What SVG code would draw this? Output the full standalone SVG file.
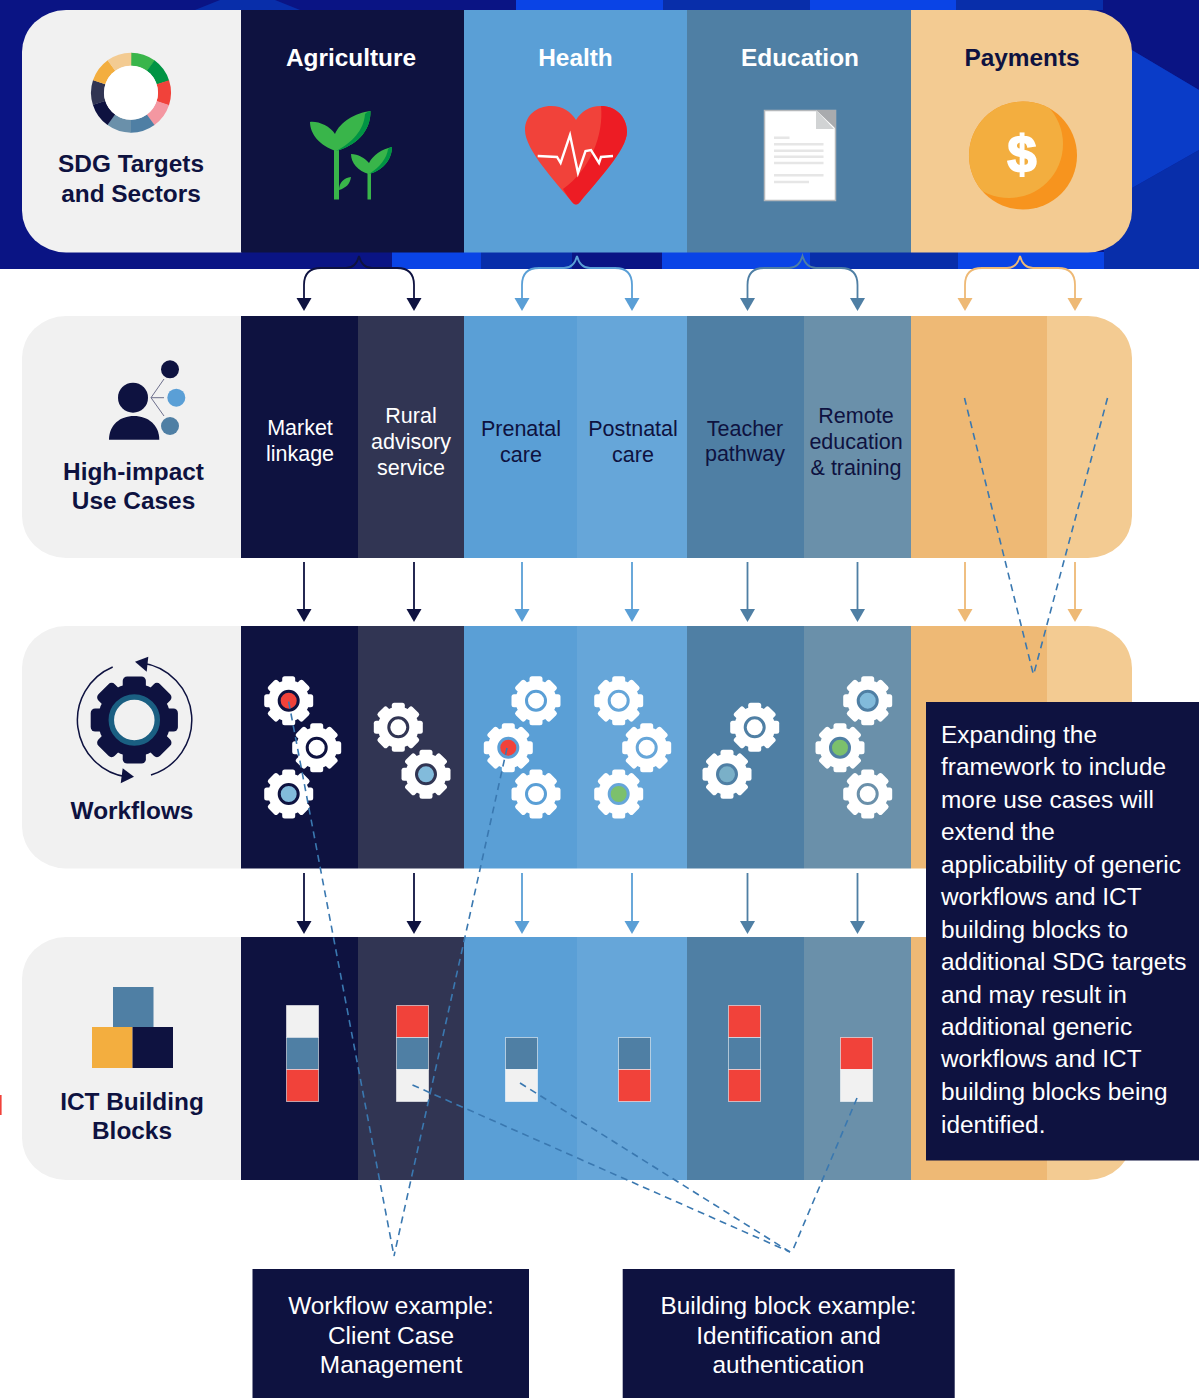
<svg xmlns="http://www.w3.org/2000/svg" width="1199" height="1398" viewBox="0 0 1199 1398">
<style>
text{font-family:"Liberation Sans",Arial,sans-serif}
.t{font-weight:700;font-size:24.4px;text-anchor:middle}
.u{font-size:21.5px;text-anchor:middle}
.c{font-size:24.4px;fill:#fff}
.b{font-size:24.4px;fill:#fff;text-anchor:middle}
.w{fill:#fff}.n{fill:#0e1240}
.navy{fill:#0e1240}.slate{fill:#313553}.sky{fill:#5a9fd6}.sky2{fill:#66a6d9}.steel{fill:#4f7fa4}.steel2{fill:#6a90aa}.ora{fill:#eeb975}.peach{fill:#f3cb92}.lab{fill:#f1f1f1}.red{fill:#f1423a}
.bk{stroke:#ffffff;stroke-opacity:.55;stroke-width:1}
.seg{fill:none;stroke-width:13;stroke-dasharray:36.5 323.5}
.con{fill:none;stroke-width:1.8}
.dash{fill:none;stroke:#3a78b0;stroke-width:1.6;stroke-dasharray:7 5}
.leaf{fill:#39b54a}.leaf2{fill:#009444}
.ln{stroke:#e6e6e6;stroke-width:2.4}
</style>
<defs>
<clipPath id="r1"><rect x="22" y="10" width="1110" height="242.500" rx="44" ry="42"/></clipPath>
<clipPath id="r2"><rect x="22" y="316" width="1110" height="242" rx="44" ry="42"/></clipPath>
<clipPath id="r3"><rect x="22" y="626" width="1110" height="242.500" rx="44" ry="42"/></clipPath>
<clipPath id="r4"><rect x="22" y="937" width="1110" height="243" rx="44" ry="42"/></clipPath>
<clipPath id="coin"><circle cx="1023" cy="155.500" r="54"/></clipPath>
<g id="gear">
<circle r="20.500"/>
<rect x="-6.500" y="-24.500" width="13" height="49" rx="2.500"/>
<rect x="-6.500" y="-24.500" width="13" height="49" rx="2.500" transform="rotate(45)"/>
<rect x="-6.500" y="-24.500" width="13" height="49" rx="2.500" transform="rotate(90)"/>
<rect x="-6.500" y="-24.500" width="13" height="49" rx="2.500" transform="rotate(135)"/>
</g>
<path id="hd" d="M-7.500 0H7.500L0 13Z"/>
</defs>

<g id="background">
<rect width="1199" height="269" fill="#0a1484"/>
<path d="M516 0H663V10H516ZM810 0H956V10H810Z" fill="#0a44e6"/>
<path d="M663 0H810V10H663ZM956 0H1103V10H956Z" fill="#082eaa"/>
<path d="M195 10L220 0H275L300 10Z" fill="#082eaa"/>
<path d="M392 252H481V269H392ZM662 252H810V269H662ZM958 252H1104V269H958Z" fill="#0a44e6"/>
<path d="M481 252H572V269H481ZM810 252H958V269H810Z" fill="#082eaa"/>
<path d="M1104 200H1199V269H1104Z" fill="#082eaa"/>
<path d="M1125 46L1199 90V150L1125 192V269H1199V150Z" fill="#082eaa"/>
<path d="M1125 46L1199 90V150L1125 192Z" fill="#0a3cc8"/>
<rect x="0" y="1095" width="1.600" height="20" class="red"/>
</g>

<g id="row-sectors" clip-path="url(#r1)">
<rect x="22" y="10" width="219.500" height="243" class="lab"/>
<rect x="241" y="10" width="223" height="243" class="navy"/>
<rect x="464" y="10" width="223" height="243" class="sky"/>
<rect x="687" y="10" width="224" height="243" class="steel"/>
<rect x="911" y="10" width="221" height="243" class="peach"/>
</g>
<g id="row-usecases" clip-path="url(#r2)">
<rect x="22" y="316" width="219.500" height="242" class="lab"/>
<rect x="241" y="316" width="117" height="242" class="navy"/>
<rect x="358" y="316" width="106" height="242" class="slate"/>
<rect x="464" y="316" width="113" height="242" class="sky"/>
<rect x="577" y="316" width="110" height="242" class="sky2"/>
<rect x="687" y="316" width="117" height="242" class="steel"/>
<rect x="804" y="316" width="107" height="242" class="steel2"/>
<rect x="911" y="316" width="136" height="242" class="ora"/>
<rect x="1047" y="316" width="85" height="242" class="peach"/>
</g>
<g id="row-workflows" clip-path="url(#r3)">
<rect x="22" y="626" width="219.500" height="243" class="lab"/>
<rect x="241" y="626" width="117" height="243" class="navy"/>
<rect x="358" y="626" width="106" height="243" class="slate"/>
<rect x="464" y="626" width="113" height="243" class="sky"/>
<rect x="577" y="626" width="110" height="243" class="sky2"/>
<rect x="687" y="626" width="117" height="243" class="steel"/>
<rect x="804" y="626" width="107" height="243" class="steel2"/>
<rect x="911" y="626" width="136" height="243" class="ora"/>
<rect x="1047" y="626" width="85" height="243" class="peach"/>
</g>
<g id="row-blocks" clip-path="url(#r4)">
<rect x="22" y="937" width="219.500" height="243" class="lab"/>
<rect x="241" y="937" width="117" height="243" class="navy"/>
<rect x="358" y="937" width="106" height="243" class="slate"/>
<rect x="464" y="937" width="113" height="243" class="sky"/>
<rect x="577" y="937" width="110" height="243" class="sky2"/>
<rect x="687" y="937" width="117" height="243" class="steel"/>
<rect x="804" y="937" width="107" height="243" class="steel2"/>
<rect x="911" y="937" width="136" height="243" class="ora"/>
<rect x="1047" y="937" width="85" height="243" class="peach"/>
</g>

<g id="node-sdg">
<g transform="translate(131 92.700)">
<circle r="33.500" pathLength="360" class="seg" stroke="#39b54a" transform="rotate(-90)"/>
<circle r="33.500" pathLength="360" class="seg" stroke="#009444" transform="rotate(-54)"/>
<circle r="33.500" pathLength="360" class="seg" stroke="#f1423a" transform="rotate(-18)"/>
<circle r="33.500" pathLength="360" class="seg" stroke="#f497a1" transform="rotate(18)"/>
<circle r="33.500" pathLength="360" class="seg" stroke="#4f7fa4" transform="rotate(54)"/>
<circle r="33.500" pathLength="360" class="seg" stroke="#6a90aa" transform="rotate(90)"/>
<circle r="33.500" pathLength="360" class="seg" stroke="#0e1240" transform="rotate(126)"/>
<circle r="33.500" pathLength="360" class="seg" stroke="#313553" transform="rotate(162)"/>
<circle r="33.500" pathLength="360" class="seg" stroke="#f3ae3f" transform="rotate(198)"/>
<circle r="33.500" pathLength="360" class="seg" stroke="#f3cb92" transform="rotate(234)"/>
<circle r="27" fill="#fff"/>
</g>
<text class="t n" x="131" y="172">SDG Targets</text>
<text class="t n" x="131" y="201.500">and Sectors</text>
</g>

<g id="node-agriculture">
<text class="t w" x="351" y="66">Agriculture</text>
<rect x="334" y="150" width="5" height="49.500" class="leaf"/>
<path d="M339 190C339 182 344 178 351 177C350 184 346 188 339 190Z" class="leaf"/>
<path d="M336 151C320 146 310 134 310 122C318 121 330 126 335 134C340 122 355 113 370.500 111C371 132 355 146 336 151Z" class="leaf"/>
<path d="M336 151C355 146 371 132 370.500 111C367 112 366 113 365 114C364 130 352 143 336 151Z" class="leaf2"/>
<rect x="367.500" y="173" width="3.500" height="26.500" class="leaf"/>
<path d="M369 174C358 171 351 163 351 154C358 154 365 158 369 163C373 155 382 149 392 147C392 160 382 171 369 174Z" class="leaf"/>
<path d="M369 174C382 171 392 160 392 147C390 147 389 148 388 149C387 158 380 167 369 174Z" class="leaf2"/>
</g>

<g id="node-health">
<text class="t w" x="575.500" y="66">Health</text>
<path d="M572 202C556 182 525 150 525 130C525 115 537 106 551 106C563 106 571 112 576 120C581 112 589 106 601 106C615 106 627 116 627 132C627 150 596 182 580 202Q576 207 572 202Z" fill="#f1423a"/>
<path d="M572 202Q576 207 580 202C596 182 627 150 627 132C627 116 615 106 601 106C604 135 590 170 563 189C566 194 569 198 572 202Z" fill="#ed1c24"/>
<path d="M537.700 156L557 157L560.600 163L570 135L578 173L585.500 151L591 150L599 163L601 157L613 156" fill="none" stroke="#fff" stroke-width="2.400"/>
</g>

<g id="node-education">
<text class="t w" x="800" y="66">Education</text>
<rect x="764.500" y="110.500" width="71" height="90" fill="#fff" stroke="#b5b8bb" stroke-width="1.500"/>
<path d="M816 110H836V129Z" fill="#a9abae"/>
<path d="M816 110V129H834Z" fill="#d1d3d4"/>
<path class="ln" d="M774 137.700H789.500M774 144.300H823.500M774 150.700H823.500M774 156.700H823.500M774 163H823.500M774 175.300H823.500M774 182H809"/>
</g>

<g id="node-payments">
<text class="t n" x="1022" y="66">Payments</text>
<circle cx="1023" cy="155.500" r="54" fill="#f7941e"/>
<circle cx="1009" cy="144" r="54" fill="#f3ae3f" clip-path="url(#coin)"/>
<text x="1022" y="172" text-anchor="middle" font-size="52" font-weight="700" fill="#fff" stroke="#fff" stroke-width="2">$</text>
</g>

<g id="node-usecases">
<circle cx="133" cy="397.700" r="15" class="navy"/>
<path d="M109 439.700C109 425 120 416 134 416C148 416 159.300 425 159.300 439.700Z" class="navy"/>
<path d="M164 379L151 397.700L164 416M151 397.700H164" fill="none" stroke="#6d6f8c" stroke-width="1"/>
<circle cx="170" cy="369.300" r="9" class="navy"/>
<circle cx="176.300" cy="397.700" r="9" class="sky"/>
<circle cx="170" cy="426" r="9" class="steel"/>
<text class="t n" x="133.500" y="479.500">High-impact</text>
<text class="t n" x="133.500" y="508.500">Use Cases</text>
</g>

<g id="node-market"><text class="u w" x="300" y="435">Market</text><text class="u w" x="300" y="460.500">linkage</text></g>
<g id="node-rural"><text class="u w" x="411" y="423">Rural</text><text class="u w" x="411" y="449">advisory</text><text class="u w" x="411" y="475">service</text></g>
<g id="node-prenatal"><text class="u n" x="521" y="435.500">Prenatal</text><text class="u n" x="521" y="461.500">care</text></g>
<g id="node-postnatal"><text class="u n" x="633" y="435.500">Postnatal</text><text class="u n" x="633" y="461.500">care</text></g>
<g id="node-teacher"><text class="u n" x="745" y="435.500">Teacher</text><text class="u n" x="745" y="461">pathway</text></g>
<g id="node-remote"><text class="u n" x="856" y="423">Remote</text><text class="u n" x="856" y="449">education</text><text class="u n" x="856" y="475">&amp; training</text></g>

<g id="node-workflows">
<use href="#gear" transform="translate(134.300 720) scale(1.780)" class="navy"/>
<circle cx="134.300" cy="720" r="23" fill="#f1f1f1" stroke="#1a5f82" stroke-width="5.500"/>
<path d="M112.700 667A57.500 57.500 0 0 0 127 777" fill="none" stroke="#0e1240" stroke-width="1.500"/>
<path d="M151 775A57.500 57.500 0 0 0 142 663" fill="none" stroke="#0e1240" stroke-width="1.500"/>
<path d="M135 661.700L148.300 656.700L146.700 671.700Z" class="navy"/>
<path d="M134 776.700L122.700 768.300L120.700 783.300Z" class="navy"/>
<text class="t n" x="132" y="818.500">Workflows</text>
</g>

<g id="node-wf-market" fill="#fff">
<use href="#gear" x="288.700" y="700.700"/><circle cx="288.700" cy="700.700" r="9.500" fill="#f1423a" stroke="#0e1240" stroke-width="3"/>
<use href="#gear" x="316.700" y="747.700"/><circle cx="316.700" cy="747.700" r="9.500" fill="#fff" stroke="#0e1240" stroke-width="3"/>
<use href="#gear" x="288.700" y="794"/><circle cx="288.700" cy="794" r="9.500" fill="#82bbdb" stroke="#0e1240" stroke-width="3"/>
</g>
<g id="node-wf-rural" fill="#fff">
<use href="#gear" x="398.300" y="727.300"/><circle cx="398.300" cy="727.300" r="9.500" fill="#fff" stroke="#313553" stroke-width="3"/>
<use href="#gear" x="426" y="774.300"/><circle cx="426" cy="774.300" r="9.500" fill="#82bbdb" stroke="#313553" stroke-width="3"/>
</g>
<g id="node-wf-prenatal" fill="#fff">
<use href="#gear" x="536" y="700.700"/><circle cx="536" cy="700.700" r="9.500" fill="#fff" stroke="#5a9fd6" stroke-width="3"/>
<use href="#gear" x="508.300" y="747.700"/><circle cx="508.300" cy="747.700" r="9.500" fill="#f1423a" stroke="#5a9fd6" stroke-width="3"/>
<use href="#gear" x="536" y="794"/><circle cx="536" cy="794" r="9.500" fill="#fff" stroke="#5a9fd6" stroke-width="3"/>
</g>
<g id="node-wf-postnatal" fill="#fff">
<use href="#gear" x="618.700" y="700.700"/><circle cx="618.700" cy="700.700" r="9.500" fill="#fff" stroke="#66a6d9" stroke-width="3"/>
<use href="#gear" x="646.700" y="747.700"/><circle cx="646.700" cy="747.700" r="9.500" fill="#fff" stroke="#66a6d9" stroke-width="3"/>
<use href="#gear" x="618.700" y="794"/><circle cx="618.700" cy="794" r="9.500" fill="#7cc06c" stroke="#66a6d9" stroke-width="3"/>
</g>
<g id="node-wf-teacher" fill="#fff">
<use href="#gear" x="754.700" y="727.300"/><circle cx="754.700" cy="727.300" r="9.500" fill="#fff" stroke="#4f7fa4" stroke-width="3"/>
<use href="#gear" x="727" y="774.300"/><circle cx="727" cy="774.300" r="9.500" fill="#7ab0c8" stroke="#4f7fa4" stroke-width="3"/>
</g>
<g id="node-wf-remote" fill="#fff">
<use href="#gear" x="867.700" y="700.700"/><circle cx="867.700" cy="700.700" r="9.500" fill="#82bbdb" stroke="#4f7fa4" stroke-width="3"/>
<use href="#gear" x="840" y="747.700"/><circle cx="840" cy="747.700" r="9.500" fill="#7cc06c" stroke="#4f7fa4" stroke-width="3"/>
<use href="#gear" x="867.700" y="794"/><circle cx="867.700" cy="794" r="9.500" fill="#fff" stroke="#6a90aa" stroke-width="3"/>
</g>

<g id="node-blocks">
<rect x="113" y="987" width="40.500" height="40" class="steel"/>
<rect x="92" y="1027" width="40.500" height="41" fill="#f3ae3f"/>
<rect x="132.500" y="1027" width="40.500" height="41" class="navy"/>
<text class="t n" x="132" y="1109.500">ICT Building</text>
<text class="t n" x="132" y="1139">Blocks</text>
</g>
<g id="node-bb-market">
<rect class="lab bk" x="286.500" y="1005.500" width="32" height="32"/><rect class="steel bk" x="286.500" y="1037.500" width="32" height="32"/><rect class="red bk" x="286.500" y="1069.500" width="32" height="32"/>
</g>
<g id="node-bb-rural">
<rect class="red bk" x="396.500" y="1005.500" width="32" height="32"/><rect class="steel bk" x="396.500" y="1037.500" width="32" height="32"/><rect class="lab bk" x="396.500" y="1069.500" width="32" height="32"/>
</g>
<g id="node-bb-prenatal">
<rect class="steel bk" x="505.500" y="1037.500" width="32" height="32"/><rect class="lab bk" x="505.500" y="1069.500" width="32" height="32"/>
</g>
<g id="node-bb-postnatal">
<rect class="steel bk" x="618.500" y="1037.500" width="32" height="32"/><rect class="red bk" x="618.500" y="1069.500" width="32" height="32"/>
</g>
<g id="node-bb-teacher">
<rect class="red bk" x="728.500" y="1005.500" width="32" height="32"/><rect class="steel bk" x="728.500" y="1037.500" width="32" height="32"/><rect class="red bk" x="728.500" y="1069.500" width="32" height="32"/>
</g>
<g id="node-bb-remote">
<rect class="red bk" x="840.500" y="1037.500" width="32" height="32"/><rect class="lab bk" x="840.500" y="1069.500" width="32" height="32"/>
</g>

<g id="connectors">
<path class="con" stroke="#0e1240" d="M304 298V285Q304 268 321 268H346Q356 268 359 256Q362 268 372 268H397Q414 268 414 285V298"/>
<path class="con" stroke="#5a9fd6" d="M522 298V285Q522 268 539 268H564Q574 268 577 256Q580 268 590 268H615Q632 268 632 285V298"/>
<path class="con" stroke="#4f7fa4" d="M747.500 298V285Q747.500 268 764 268H789Q799 268 802.500 256Q806 268 816 268H841Q857.500 268 857.500 285V298"/>
<path class="con" stroke="#eeb975" d="M965 298V285Q965 268 982 268H1007Q1017 268 1020 256Q1023 268 1033 268H1058Q1075 268 1075 285V298"/>
<use href="#hd" x="304" y="298" class="navy"/><use href="#hd" x="414" y="298" class="navy"/>
<use href="#hd" x="522" y="298" class="sky"/><use href="#hd" x="632" y="298" class="sky"/>
<use href="#hd" x="747.500" y="298" class="steel"/><use href="#hd" x="857.500" y="298" class="steel"/>
<use href="#hd" x="965" y="298" class="ora"/><use href="#hd" x="1075" y="298" class="ora"/>

<path class="con" stroke="#0e1240" d="M304 562V610M414 562V610M304 873V921M414 873V921"/>
<path class="con" stroke="#5a9fd6" d="M522 562V610M632 562V610M522 873V921M632 873V921"/>
<path class="con" stroke="#4f7fa4" d="M747.500 562V610M857.500 562V610M747.500 873V921M857.500 873V921"/>
<path class="con" stroke="#eeb975" d="M965 562V610M1075 562V610"/>
<use href="#hd" x="304" y="609" class="navy"/><use href="#hd" x="414" y="609" class="navy"/>
<use href="#hd" x="522" y="609" class="sky"/><use href="#hd" x="632" y="609" class="sky"/>
<use href="#hd" x="747.500" y="609" class="steel"/><use href="#hd" x="857.500" y="609" class="steel"/>
<use href="#hd" x="965" y="609" class="ora"/><use href="#hd" x="1075" y="609" class="ora"/>
<use href="#hd" x="304" y="921" class="navy"/><use href="#hd" x="414" y="921" class="navy"/>
<use href="#hd" x="522" y="921" class="sky"/><use href="#hd" x="632" y="921" class="sky"/>
<use href="#hd" x="747.500" y="921" class="steel"/><use href="#hd" x="857.500" y="921" class="steel"/>

<path class="dash" d="M964.500 398L1033.500 675"/>
<path class="dash" d="M1107.500 398L1033.500 675"/>
<path class="dash" d="M288.700 701.700L394 1256"/>
<path class="dash" d="M507 748L394 1256"/>
<path class="dash" d="M412.500 1085L790 1252"/>
<path class="dash" d="M520 1083L790 1252"/>
<path class="dash" d="M857 1098L792 1252"/>
</g>

<g id="node-callout">
<rect x="926" y="702" width="273" height="458.500" class="navy"/>
<text class="c" x="941" y="743">Expanding the</text>
<text class="c" x="941" y="775.400">framework to include</text>
<text class="c" x="941" y="807.900">more use cases will</text>
<text class="c" x="941" y="840.300">extend the</text>
<text class="c" x="941" y="872.800">applicability of generic</text>
<text class="c" x="941" y="905.200">workflows and ICT</text>
<text class="c" x="941" y="937.600">building blocks to</text>
<text class="c" x="941" y="970.100">additional SDG targets</text>
<text class="c" x="941" y="1002.500">and may result in</text>
<text class="c" x="941" y="1035">additional generic</text>
<text class="c" x="941" y="1067.400">workflows and ICT</text>
<text class="c" x="941" y="1099.800">building blocks being</text>
<text class="c" x="941" y="1132.800">identified.</text>
</g>
<g id="node-workflow-example">
<rect x="252.500" y="1269" width="276.500" height="129" class="navy"/>
<text class="b" x="391" y="1314">Workflow example:</text>
<text class="b" x="391" y="1343.500">Client Case</text>
<text class="b" x="391" y="1372.700">Management</text>
</g>
<g id="node-block-example">
<rect x="622.700" y="1269" width="332" height="129" class="navy"/>
<text class="b" x="788.500" y="1314">Building block example:</text>
<text class="b" x="788.500" y="1343.500">Identification and</text>
<text class="b" x="788.500" y="1372.700">authentication</text>
</g>
</svg>
